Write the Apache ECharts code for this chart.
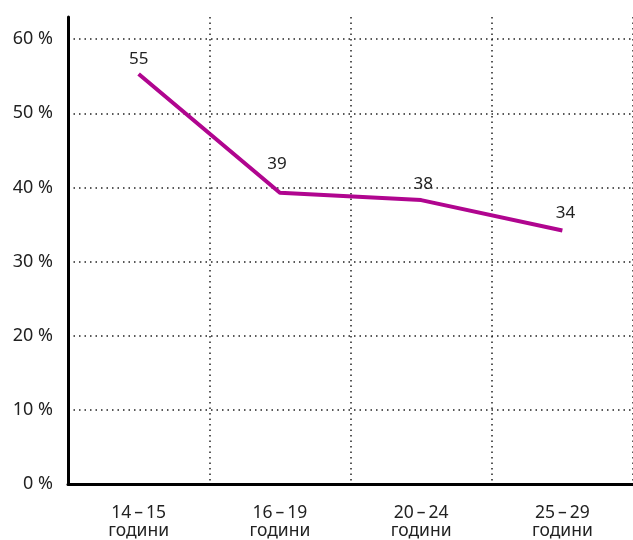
<!DOCTYPE html>
<html><head><meta charset="utf-8">
<script src="https://cdn.jsdelivr.net/npm/echarts@6/dist/echarts.min.js"></script>
<style>html,body{margin:0;padding:0;background:#fff;overflow:hidden}#c{width:633px;height:100vh}</style>
</head><body><div id="c"></div>
<script>
const categories = ['14\u2009–\u200915\nгодини', '16\u2009–\u200919\nгодини', '20\u2009–\u200924\nгодини', '25\u2009–\u200929\nгодини'];
const values = [55.3, 39.3, 38.3, 34.2];
const labelOffsets = [[0, 2], [-3, -12], [2, 1], [3, 0]];
const yTicks = [0, 10, 20, 30, 40, 50, 60];

const chart = echarts.init(document.getElementById('c'), null, {renderer: 'canvas'});
const font = '"Noto Sans", "Open Sans", sans-serif';
const H = chart.getHeight();
chart.setOption({
  animation: false,
  grid: {left: 68, right: 0, top: 17, bottom: H - 489, containLabel: false},
  xAxis: {
    type: 'category', data: categories, boundaryGap: true,
    axisLine: {lineStyle: {color: '#000', width: 3}},
    axisTick: {show: false},
    axisLabel: {margin: 20, color: '#222', fontSize: 17.5, fontFamily: font, lineHeight: 18},
    splitLine: {show: true, lineStyle: {color: '#222', type: [1.5, 4], width: 1.5}}
  },
  yAxis: {
    type: 'value', min: 0, max: 63, interval: 10,
    axisLine: {show: true, lineStyle: {color: '#000', width: 3}},
    axisTick: {show: false},
    axisLabel: {margin: 15, color: '#222', fontSize: 18, fontFamily: font,
      formatter: v => yTicks.includes(v) ? v + ' %' : ''},
    splitLine: {show: true, showMaxLine: false, showMinLine: false,
      lineStyle: {color: '#222', type: [1.5, 4], width: 1.5}}
  },
  series: [{
    type: 'line', showSymbol: true, symbol: 'circle', symbolSize: 1,
    data: values.map((v, i) => ({value: v, label: {offset: labelOffsets[i]}})),
    lineStyle: {color: '#B0058F', width: 4},
    itemStyle: {color: 'rgba(0,0,0,0)'},
    label: {show: true, position: 'top', distance: 8, color: '#222', fontSize: 17, fontFamily: font,
      formatter: p => Math.round(p.value)}
  }]
});
</script></body></html>
